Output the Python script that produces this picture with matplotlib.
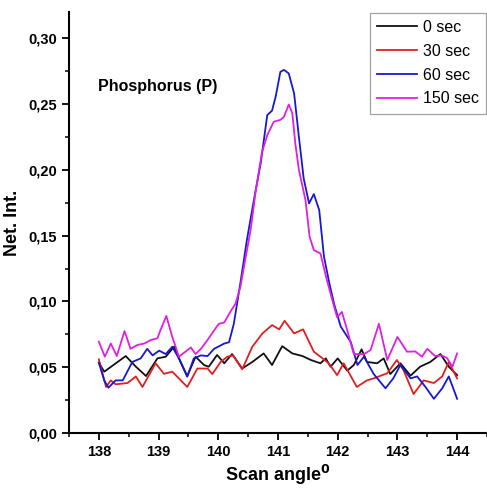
import matplotlib
matplotlib.use("Agg")
import matplotlib.pyplot as plt
from matplotlib.ticker import MultipleLocator, FuncFormatter

plt.rcParams['font.family'] = ['Liberation Sans', 'DejaVu Sans']

x_black = [138.0, 138.09, 138.45, 138.62, 138.79, 138.98, 139.12, 139.26, 139.37, 139.48, 139.62, 139.76, 139.84,
           139.98, 140.10, 140.23, 140.40, 140.57, 140.76, 140.90, 141.07, 141.24, 141.41, 141.55, 141.71, 141.80,
           141.88, 142.00, 142.16, 142.27, 142.40, 142.49, 142.66, 142.77, 142.88, 143.05, 143.22, 143.38, 143.55,
           143.72, 143.86, 144.0]
y_black = [0.0534, 0.0466, 0.0585, 0.0504, 0.0433, 0.0567, 0.058, 0.0656, 0.054, 0.0433, 0.058, 0.0517, 0.0504,
           0.0593, 0.053, 0.060, 0.049, 0.054, 0.0605, 0.0517, 0.066, 0.0605, 0.0585, 0.0555, 0.053, 0.0567,
           0.0504, 0.0567, 0.0474, 0.0517, 0.0636, 0.054, 0.053, 0.0567, 0.0448, 0.053, 0.0436, 0.0504, 0.054,
           0.060, 0.0504, 0.044]

x_red = [138.0, 138.12, 138.20, 138.28, 138.48, 138.62, 138.73, 138.95, 139.09, 139.23, 139.48, 139.65, 139.82,
         139.90, 140.04, 140.15, 140.25, 140.40, 140.57, 140.74, 140.90, 141.02, 141.11, 141.27, 141.42, 141.60,
         141.71, 141.85, 141.99, 142.10, 142.32, 142.49, 142.60, 142.83, 142.99, 143.10, 143.27, 143.44, 143.61,
         143.75, 143.86, 144.0]
y_red = [0.056, 0.035, 0.040, 0.037, 0.038, 0.043, 0.035, 0.053, 0.045, 0.0466, 0.035, 0.049, 0.049,
         0.0448, 0.054, 0.058, 0.059, 0.0484, 0.0656, 0.0757, 0.082, 0.0788, 0.0853, 0.0757, 0.0788, 0.0618,
         0.058, 0.053, 0.044, 0.053, 0.035, 0.040, 0.0415, 0.0454, 0.0555, 0.048, 0.0296, 0.040, 0.038,
         0.043, 0.054, 0.0415]

x_blue = [138.0, 138.09, 138.16, 138.28, 138.40, 138.56, 138.70, 138.81, 138.90, 139.01, 139.12, 139.23, 139.34,
          139.48, 139.59, 139.71, 139.82, 139.93, 140.10, 140.18, 140.26, 140.37, 140.48, 140.60, 140.71, 140.82,
          140.90, 140.96, 141.04, 141.10, 141.18, 141.27, 141.35, 141.43, 141.52, 141.60, 141.69, 141.77, 141.86,
          141.94, 142.05, 142.22, 142.33, 142.44, 142.60, 142.80, 142.93, 143.05, 143.22, 143.33, 143.47, 143.61,
          143.75, 143.86, 144.0]
y_blue = [0.0534, 0.040, 0.0344, 0.040, 0.040, 0.054, 0.0567, 0.064, 0.059, 0.0626, 0.060, 0.0656, 0.0567,
          0.0428, 0.0567, 0.059, 0.0585, 0.064, 0.068, 0.069, 0.083, 0.114, 0.147, 0.178, 0.205, 0.2416,
          0.245, 0.2555, 0.2745, 0.276, 0.2733, 0.258, 0.225, 0.1935, 0.1745, 0.1816, 0.1695, 0.134, 0.1138,
          0.098, 0.081, 0.069, 0.0517, 0.058, 0.045, 0.034, 0.0415, 0.0517, 0.0415, 0.043, 0.035, 0.026,
          0.034, 0.043, 0.026]

x_mag = [138.0, 138.10, 138.20, 138.30, 138.43, 138.53, 138.65, 138.76, 138.87, 138.98, 139.03, 139.13, 139.23,
         139.34, 139.45, 139.54, 139.62, 139.71, 139.82, 139.93, 140.01, 140.10, 140.20, 140.29, 140.37, 140.46,
         140.54, 140.63, 140.73, 140.82, 140.93, 141.04, 141.10, 141.18, 141.24, 141.29, 141.35, 141.46, 141.53,
         141.60, 141.71, 141.82, 141.94, 141.99, 142.07, 142.16, 142.27, 142.44, 142.55, 142.69, 142.83, 143.00,
         143.16, 143.30, 143.41, 143.50, 143.63, 143.74, 143.83, 143.92, 144.0]
y_mag = [0.0694, 0.058, 0.068, 0.0585, 0.0775, 0.064, 0.067, 0.068, 0.0707, 0.072, 0.078, 0.089, 0.073,
         0.058, 0.0618, 0.065, 0.060, 0.064, 0.0707, 0.078, 0.083, 0.084, 0.092, 0.0985, 0.111, 0.134,
         0.154, 0.185, 0.213, 0.2264, 0.2366, 0.238, 0.2403, 0.2497, 0.243, 0.220, 0.200, 0.177, 0.149,
         0.139, 0.1365, 0.116, 0.096, 0.088, 0.092, 0.078, 0.060, 0.060, 0.063, 0.083, 0.0555, 0.073,
         0.0618, 0.062, 0.058, 0.064, 0.0585, 0.059, 0.057, 0.0504, 0.0605]

labels = ['0 sec', '30 sec', '60 sec', '150 sec']
colors = ['#111111', '#e02020', '#1818d0', '#e020e0']

fig = plt.figure(figsize=(4.87, 4.91), dpi=100)
ax = fig.add_axes([0.1417, 0.1181, 0.8583, 0.8575])

series = [(x_black, y_black), (x_red, y_red), (x_blue, y_blue), (x_mag, y_mag)]
for (xs, ys), lab, c in zip(series, labels, colors):
    ax.plot(xs, ys, color=c, lw=1.3, label=lab, solid_joinstyle='round')

ax.set_xlim(137.5, 144.5)
ax.set_ylim(0.0, 0.32)
ax.xaxis.set_major_locator(MultipleLocator(1))
ax.xaxis.set_minor_locator(MultipleLocator(0.5))
ax.yaxis.set_major_locator(MultipleLocator(0.05))
ax.yaxis.set_minor_locator(MultipleLocator(0.025))
ax.yaxis.set_major_formatter(FuncFormatter(lambda v, p: f"{v:.2f}".replace('.', ',')))
ax.xaxis.set_major_formatter(FuncFormatter(lambda v, p: f"{v:.0f}"))
ax.spines['top'].set_visible(False)
ax.spines['right'].set_visible(False)
for s in ('left', 'bottom'):
    ax.spines[s].set_linewidth(1.5)
ax.tick_params(which='major', direction='out', length=5, width=1.3, labelsize=10.5)
ax.tick_params(which='minor', direction='out', length=3, width=1.1)
for t in ax.get_xticklabels() + ax.get_yticklabels():
    t.set_fontweight('bold')

ax.set_ylabel('Net. Int.', fontsize=13, fontweight='bold', labelpad=5)
ax.set_xlabel('Scan angle$^{\\mathbf{0}}$', fontsize=13, fontweight='bold', labelpad=3)

ax.text(137.98, 0.263, 'Phosphorus (P)', fontsize=11.5, fontweight='bold', va='center')

leg = ax.legend(loc='upper right', bbox_to_anchor=(0.998, 0.998), fontsize=11.5, frameon=True,
                fancybox=False, handlelength=2.5, handletextpad=0.35,
                borderpad=0.45, labelspacing=0.55, borderaxespad=0.0)
leg.get_frame().set_linewidth(0.9)
leg.get_frame().set_edgecolor('#8a8a8a')

fig.savefig('out.png', dpi=100)
